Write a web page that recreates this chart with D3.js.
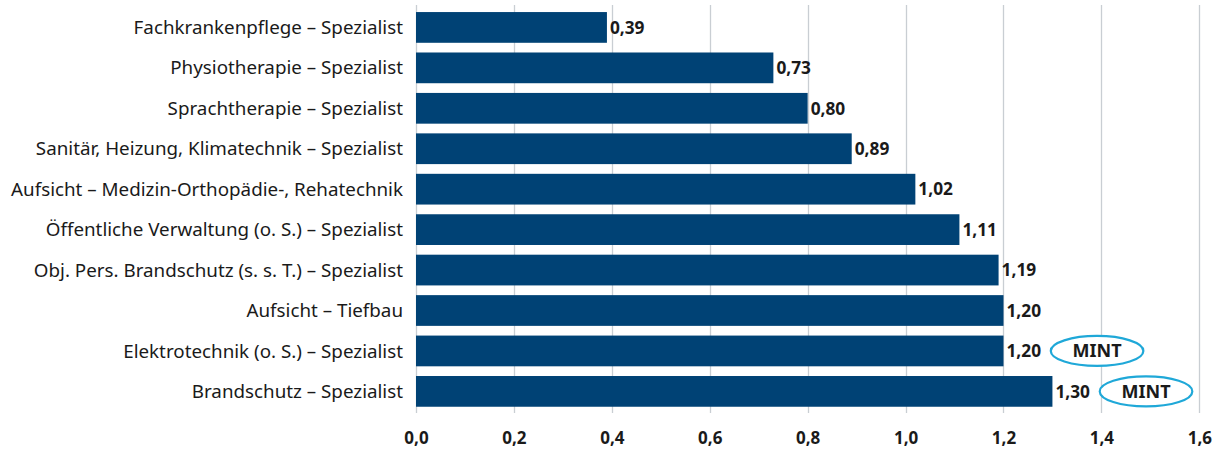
<!DOCTYPE html>
<html><head><meta charset="utf-8">
<script src="https://cdn.jsdelivr.net/npm/d3@7"></script>
<style>body{margin:0;background:#fff}svg{display:block}</style>
</head><body><svg id="c" width="1221" height="452"></svg>
<script>
const categories = [
  "Fachkrankenpflege – Spezialist",
  "Physiotherapie – Spezialist",
  "Sprachtherapie – Spezialist",
  "Sanitär, Heizung, Klimatechnik – Spezialist",
  "Aufsicht – Medizin-Orthopädie-, Rehatechnik",
  "Öffentliche Verwaltung (o. S.) – Spezialist",
  "Obj. Pers. Brandschutz (s. s. T.) – Spezialist",
  "Aufsicht – Tiefbau",
  "Elektrotechnik (o. S.) – Spezialist",
  "Brandschutz – Spezialist"
];
const values = [0.39, 0.73, 0.80, 0.89, 1.02, 1.11, 1.19, 1.20, 1.20, 1.30];
const mintFlags = [false, false, false, false, false, false, false, false, true, true];
const tickValues = [0, 0.2, 0.4, 0.6, 0.8, 1.0, 1.2, 1.4, 1.6];

const fmt = v => d3.format(".2f")(v).replace(".", ",");
const fmtTick = v => d3.format(".1f")(v).replace(".", ",");
const FONT = "'Noto Sans', sans-serif";

const svg = d3.select("#c");
const x = d3.scaleLinear().domain([0, 1.6]).range([416, 1199.3]);
const y = d3.scaleBand().domain(categories).range([7.2, 411.6]).paddingInner(0.24).paddingOuter(0.12);

// gridlines
svg.append("g").selectAll("line").data(tickValues).join("line")
  .attr("x1", d => Math.round(x(d)) + 0.5).attr("x2", d => Math.round(x(d)) + 0.5)
  .attr("y1", 5).attr("y2", 413)
  .attr("stroke", "#c9ced3").attr("stroke-width", 1.3);

// x tick labels via axis
const ax = svg.append("g").attr("transform", "translate(0,413)")
  .call(d3.axisBottom(x).tickValues(tickValues).tickFormat(fmtTick).tickSize(0).tickPadding(0));
ax.select(".domain").remove();
ax.selectAll("text").attr("y", 31).attr("dy", 0)
  .attr("font-family", FONT).attr("font-size", 17).attr("font-weight", 700).attr("fill", "#1a1a1a");

// bars
svg.append("g").selectAll("rect").data(values).join("rect")
  .attr("x", x(0)).attr("y", (d, i) => y(categories[i]))
  .attr("width", d => x(d) - x(0)).attr("height", y.bandwidth())
  .attr("fill", "#004275");

// category labels
svg.append("g").selectAll("text").data(categories).join("text")
  .attr("x", 403).attr("y", d => y(d) + y.bandwidth() / 2).attr("dy", "0.35em")
  .attr("text-anchor", "end").attr("font-family", FONT).attr("font-size", 18.8)
  .attr("fill", "#1a1a1a").text(d => d);

// value labels
const vl = svg.append("g").selectAll("text").data(values).join("text")
  .attr("x", d => x(d) + 3).attr("y", (d, i) => y(categories[i]) + y.bandwidth() / 2).attr("dy", "0.36em")
  .attr("font-family", FONT).attr("font-size", 17.3).attr("font-weight", 700)
  .attr("fill", "#1a1a1a").text(d => fmt(d));

// MINT ellipses
vl.each(function (d, i) {
  if (!mintFlags[i]) return;
  const end = x(d) + 3 + this.getComputedTextLength();
  const cx = end + 10 + 46, cy = y(categories[i]) + y.bandwidth() / 2;
  svg.append("ellipse").attr("cx", cx).attr("cy", cy).attr("rx", 46.3).attr("ry", 15)
    .attr("fill", "#fff").attr("stroke", "#1fa8d8").attr("stroke-width", 2.2);
  svg.append("text").attr("x", cx).attr("y", cy).attr("dy", "0.36em").attr("text-anchor", "middle")
    .attr("font-family", FONT).attr("font-size", 18).attr("font-weight", 700)
    .attr("fill", "#1a1a1a").text("MINT");
});
</script></body></html>
